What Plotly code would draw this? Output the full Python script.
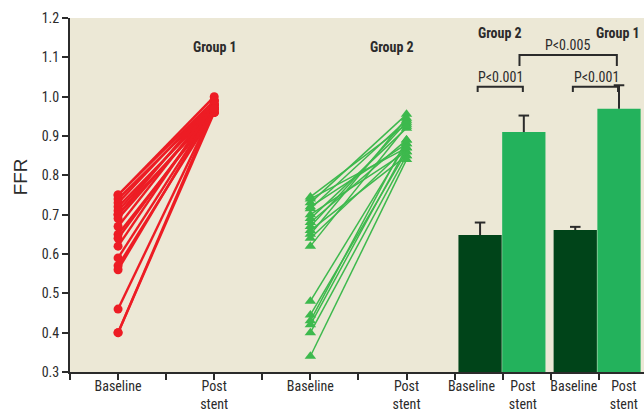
import plotly.graph_objects as go

# ---- data ----
red_baseline = [0.75, 0.75, 0.74, 0.73, 0.72, 0.71, 0.70, 0.70, 0.69, 0.67, 0.65, 0.64, 0.62, 0.59, 0.57, 0.56, 0.46, 0.40, 0.40]
red_post     = [1.00, 0.99, 0.98, 0.99, 0.97, 0.98, 0.99, 0.96, 0.97, 0.98, 0.96, 0.97, 0.98, 0.97, 0.96, 0.97, 0.97, 0.96, 0.97]

green_baseline = [0.745, 0.74, 0.73, 0.72, 0.715, 0.70, 0.69, 0.68, 0.67, 0.66, 0.65, 0.64, 0.62, 0.48, 0.445, 0.43, 0.42, 0.40, 0.34]
green_post     = [0.93, 0.87, 0.955, 0.88, 0.94, 0.86, 0.92, 0.89, 0.935, 0.85, 0.945, 0.87, 0.925, 0.88, 0.86, 0.89, 0.87, 0.85, 0.84]

bar_groups = ["Group 2", "Group 1"]
bar_baseline_mean = [0.648, 0.661]
bar_baseline_sd = [0.032, 0.008]
bar_post_mean = [0.910, 0.969]
bar_post_sd = [0.042, 0.060]

tick_labels = ["Baseline", "Post<br>stent", "Baseline", "Post<br>stent",
               "Baseline", "Post<br>stent", "Baseline", "Post<br>stent"]
y_ticks = [0.3, 0.4, 0.5, 0.6, 0.7, 0.8, 0.9, 1.0, 1.1, 1.2]

# ---- positions ----
X_RED = [1, 3]
X_GREEN = [5, 7]
X_BAR_BASE = [8.53, 10.51]
X_BAR_POST = [9.44, 11.42]
tick_pos = [1, 3, 5, 7, 8.35, 9.42, 10.48, 11.52]
CAP = 0.11  # half cap width in x units

COND = "Roboto Condensed, Roboto, sans-serif"
RED = "#ed1c24"
GREEN = "#3db94d"
DARK = "#004419"
LIGHT = "#23b25c"
INK = "#2b2b2b"

fig = go.Figure()

for b, p in zip(red_baseline, red_post):
    fig.add_trace(go.Scatter(x=X_RED, y=[b, p], mode="lines+markers",
                             line=dict(color=RED, width=2.4),
                             marker=dict(symbol="circle", size=9, color=RED),
                             showlegend=False, hoverinfo="skip"))

for b, p in zip(green_baseline, green_post):
    fig.add_trace(go.Scatter(x=X_GREEN, y=[b, p], mode="lines+markers",
                             line=dict(color=GREEN, width=1.5),
                             marker=dict(symbol="triangle-up", size=10, color=GREEN),
                             showlegend=False, hoverinfo="skip"))

fig.add_trace(go.Bar(x=X_BAR_BASE, y=bar_baseline_mean, width=0.9,
                     marker=dict(color=DARK, line=dict(width=0)),
                     showlegend=False, hoverinfo="skip"))
fig.add_trace(go.Bar(x=X_BAR_POST, y=bar_post_mean, width=0.9,
                     marker=dict(color=LIGHT, line=dict(width=0)),
                     showlegend=False, hoverinfo="skip"))

# one-sided (upper) error bars
ex, ey = [], []
for xs, ms, ss in ((X_BAR_BASE, bar_baseline_mean, bar_baseline_sd),
                   (X_BAR_POST, bar_post_mean, bar_post_sd)):
    for x, m, s in zip(xs, ms, ss):
        ex += [x, x, None, x - CAP, x + CAP, None]
        ey += [m, m + s, None, m + s, m + s, None]
fig.add_trace(go.Scatter(x=ex, y=ey, mode="lines", line=dict(color=INK, width=2),
                         showlegend=False, hoverinfo="skip"))

# brackets
def bracket(x0, x1, ytop, ybot):
    fig.add_shape(type="path",
                  path=f"M {x0},{ybot} L {x0},{ytop} L {x1},{ytop} L {x1},{ybot}",
                  xref="x", yref="y", line=dict(color=INK, width=2))

bracket(X_BAR_BASE[0] - 0.05, X_BAR_POST[0] - 0.02, 1.025, 1.012)
bracket(X_BAR_BASE[1] - 0.05, X_BAR_POST[1] - 0.02, 1.025, 1.012)
bracket(9.35, 11.375, 1.106, 1.078)

ann = [
    dict(x=3.02, y=1.126, text="<b>Group 1</b>", size=14),
    dict(x=6.7, y=1.126, text="<b>Group 2</b>", size=14),
    dict(x=8.95, y=1.162, text="<b>Group 2</b>", size=14),
    dict(x=11.4, y=1.162, text="<b>Group 1</b>", size=14),
    dict(x=8.96, y=1.05, text="P<0.001", size=14),
    dict(x=10.96, y=1.05, text="P<0.001", size=14),
    dict(x=10.35, y=1.131, text="P<0.005", size=14),
]
for a in ann:
    fig.add_annotation(x=a["x"], y=a["y"], xref="x", yref="y", text=a["text"],
                       showarrow=False, font=dict(family=COND, size=a["size"], color=INK))

# y-axis title
fig.add_annotation(x=-0.087, y=0.55, xref="paper", yref="paper", text="FFR",
                   xanchor="center", yanchor="middle",
                   textangle=-90, showarrow=False,
                   font=dict(family="Liberation Sans, Arial, sans-serif", size=19, color=INK))

fig.update_layout(
    width=644, height=412,
    margin=dict(l=70, r=0, t=18, b=40),
    paper_bgcolor="white",
    plot_bgcolor="#ece8d6",
    barmode="overlay",
    font=dict(family=COND, color=INK),
    xaxis=dict(range=[0, 11.94], showgrid=False, zeroline=False,
               tickvals=tick_pos, ticktext=tick_labels, ticks="", ticklen=0,
               tickfont=dict(family=COND, size=14, color=INK),
               showline=True, linecolor=INK, linewidth=2,
               minor=dict(tickvals=list(range(0, 12)), ticks="outside", ticklen=6,
                          tickcolor=INK, tickwidth=2)),
    yaxis=dict(range=[0.3, 1.2], showgrid=False, zeroline=False,
               tickvals=y_ticks, tickformat=".1f", ticks="outside", ticklen=6,
               tickcolor=INK, tickwidth=1.5,
               tickfont=dict(family=COND, size=14, color=INK),
               showline=True, linecolor=INK, linewidth=2),
)

fig.write_html("out.html", config={"displayModeBar": False},
               post_script="document.body.style.margin='0';document.body.style.overflow='hidden';")
